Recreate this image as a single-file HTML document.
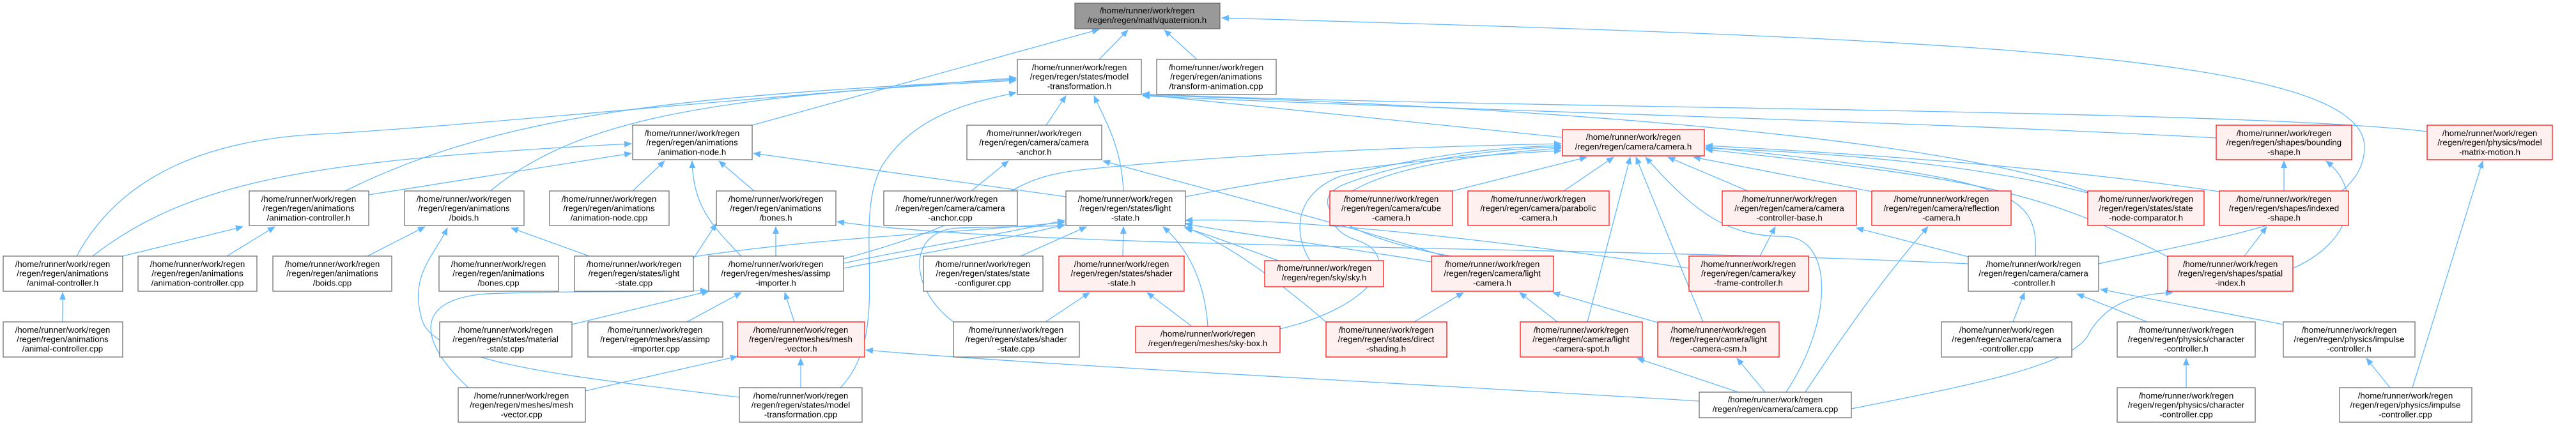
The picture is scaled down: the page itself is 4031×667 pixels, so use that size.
<!DOCTYPE html>
<html><head><meta charset="utf-8"><style>
html,body{margin:0;padding:0;background:#fff;}
svg{display:block}
text{font-family:"Liberation Sans",sans-serif;font-size:13.3px;fill:#000;text-anchor:middle}
.n rect{fill:#fff;stroke:#666;stroke-width:1.2}
.r rect{fill:#fff0f0;stroke:#f00;stroke-width:1.2}
.g rect{fill:#999;stroke:#666;stroke-width:1.2}
path.e{fill:none;stroke:#63b8ff;stroke-width:1.3}
</style></head><body>
<svg width="4031" height="667" viewBox="0 0 4031 667" xmlns="http://www.w3.org/2000/svg">
<defs><marker id="a" markerWidth="12" markerHeight="10" refX="11" refY="5" orient="auto" markerUnits="userSpaceOnUse"><path d="M0,0 L12,5 L0,10 z" fill="#63b8ff"/></marker></defs>
<g marker-end="url(#a)">
<path class="e" d="M1720,93 L1765,47"/>
<path class="e" d="M1873,93 L1822,47"/>
<path class="e" d="M1177,196 L1720,46"/>
<path class="e" d="M3284,413 C3500,365 3700,340 3700,230 C3700,80 3000,60 1912,28"/>
<path class="e" d="M120,401 C180,290 300,220 500,210 S1200,150 1590,122"/>
<path class="e" d="M540,299 C800,170 1100,150 1590,124"/>
<path class="e" d="M767,299 C900,190 1100,150 1590,126"/>
<path class="e" d="M1637,196 L1668,150"/>
<path class="e" d="M1758,299 C1755,230 1730,190 1712,150"/>
<path class="e" d="M1315,607 C1400,520 1330,350 1380,260 C1430,180 1520,160 1590,145"/>
<path class="e" d="M2445,215 C2200,190 1900,160 1788,148"/>
<path class="e" d="M3267,300 C3000,200 2200,160 1788,149"/>
<path class="e" d="M3468,216 C3000,190 2200,170 1788,150"/>
<path class="e" d="M3798,206 C3500,170 2300,170 1788,147"/>
<path class="e" d="M145,401 C300,280 500,250 988,225"/>
<path class="e" d="M577,305 L988,240"/>
<path class="e" d="M990,299 L1040,252"/>
<path class="e" d="M1180,299 L1125,252"/>
<path class="e" d="M1160,401 C1110,350 1085,320 1083,252"/>
<path class="e" d="M1668,308 L1179,240"/>
<path class="e" d="M192,401 L380,355"/>
<path class="e" d="M355,401 L430,355"/>
<path class="e" d="M98,504 L98,458"/>
<path class="e" d="M575,401 L665,355"/>
<path class="e" d="M922,401 L800,357"/>
<path class="e" d="M1157,622 C900,590 680,570 660,500 C640,430 680,400 700,357"/>
<path class="e" d="M1214,401 L1214,355"/>
<path class="e" d="M1085,405 L1121,350"/>
<path class="e" d="M3080,413 C2500,385 1600,390 1310,347"/>
<path class="e" d="M1520,299 L1578,252"/>
<path class="e" d="M2260,401 C2100,350 1900,300 1726,252"/>
<path class="e" d="M1085,402 C1300,370 1500,365 1666,348"/>
<path class="e" d="M1320,412 C1450,385 1550,370 1666,345"/>
<path class="e" d="M1320,420 C1450,395 1550,380 1666,352"/>
<path class="e" d="M1597,401 L1700,355"/>
<path class="e" d="M1757,401 L1758,355"/>
<path class="e" d="M1890,511 C1885,440 1860,390 1820,355"/>
<path class="e" d="M1492,504 C1420,450 1420,360 1500,357 C1560,355 1620,355 1666,353"/>
<path class="e" d="M2075,504 C2000,440 1920,380 1853,355"/>
<path class="e" d="M2240,410 C2050,380 1900,360 1855,350"/>
<path class="e" d="M2000,408 C1950,390 1900,370 1855,357"/>
<path class="e" d="M2643,420 C2300,370 2000,340 1855,345"/>
<path class="e" d="M1855,308 C2050,270 2250,245 2443,236"/>
<path class="e" d="M1320,405 C1600,330 1550,280 1700,265 C2000,235 2300,228 2443,225"/>
<path class="e" d="M2273,299 L2483,246"/>
<path class="e" d="M2447,299 L2525,246"/>
<path class="e" d="M2735,299 L2610,246"/>
<path class="e" d="M2929,300 L2650,246"/>
<path class="e" d="M2050,408 C2020,360 2030,300 2100,275 C2250,240 2350,230 2443,228"/>
<path class="e" d="M2003,515 C2150,480 2200,400 2120,375 C2050,350 2050,260 2443,232"/>
<path class="e" d="M2270,401 C2100,370 2040,320 2100,290 C2200,250 2350,232 2443,230"/>
<path class="e" d="M2484,504 L2551,246"/>
<path class="e" d="M2665,504 L2560,246"/>
<path class="e" d="M2795,614 C2870,500 2870,370 2790,370 C2700,370 2650,330 2575,246"/>
<path class="e" d="M3267,302 C3100,260 2900,240 2669,232"/>
<path class="e" d="M3185,401 C3190,300 3150,280 2669,230"/>
<path class="e" d="M3392,402 C3200,300 3100,280 2669,234"/>
<path class="e" d="M3473,300 C3200,260 2900,240 2669,228"/>
<path class="e" d="M2213,504 L2290,458"/>
<path class="e" d="M2437,504 L2378,458"/>
<path class="e" d="M2594,505 L2430,458"/>
<path class="e" d="M2754,401 L2778,355"/>
<path class="e" d="M3080,402 L2905,357"/>
<path class="e" d="M2825,614 C2900,500 2960,420 3017,355"/>
<path class="e" d="M2720,614 L2562,561"/>
<path class="e" d="M2762,614 L2718,561"/>
<path class="e" d="M1253,607 L1253,561"/>
<path class="e" d="M916,612 L1154,558"/>
<path class="e" d="M2659,628 C2200,600 1600,570 1355,548"/>
<path class="e" d="M1075,504 L1160,458"/>
<path class="e" d="M1243,504 L1228,458"/>
<path class="e" d="M895,508 L1109,456"/>
<path class="e" d="M733,607 C660,540 640,470 760,460 C900,455 1000,458 1107,455"/>
<path class="e" d="M1636,504 L1705,458"/>
<path class="e" d="M1865,511 L1795,458"/>
<path class="e" d="M3574,299 L3574,252"/>
<path class="e" d="M3588,420 C3680,380 3700,300 3640,252"/>
<path class="e" d="M3512,401 L3547,355"/>
<path class="e" d="M2897,640 C3100,600 3250,570 3270,520 C3300,470 3350,460 3400,458"/>
<path class="e" d="M3150,504 L3168,458"/>
<path class="e" d="M3360,504 L3250,460"/>
<path class="e" d="M3573,508 L3287,453"/>
<path class="e" d="M3421,607 L3421,561"/>
<path class="e" d="M3740,607 L3703,561"/>
<path class="e" d="M3775,607 L3885,252"/>
</g>

<!-- nodes -->
<g class="g"><rect x="1682" y="5" width="227" height="40"/><text x="1795" y="21">/home/runner/work/regen</text><text x="1795" y="36">/regen/regen/math/quaternion.h</text></g>

<g class="n"><rect x="1592" y="93" width="194" height="55"/><text x="1689" y="110">/home/runner/work/regen</text><text x="1689" y="124.7">/regen/regen/states/model</text><text x="1689" y="139.4">-transformation.h</text></g>
<g class="n"><rect x="1810" y="93" width="187" height="55"/><text x="1903" y="110">/home/runner/work/regen</text><text x="1903" y="124.7">/regen/regen/animations</text><text x="1903" y="139.4">/transform-animation.cpp</text></g>

<g class="n"><rect x="990" y="196" width="187" height="54"/><text x="1083" y="213">/home/runner/work/regen</text><text x="1083" y="227.7">/regen/regen/animations</text><text x="1083" y="242.4">/animation-node.h</text></g>
<g class="n"><rect x="1513" y="196" width="211" height="54"/><text x="1618" y="213">/home/runner/work/regen</text><text x="1618" y="227.7">/regen/regen/camera/camera</text><text x="1618" y="242.4">-anchor.h</text></g>
<g class="r"><rect x="2445" y="203" width="222" height="41"/><text x="2556" y="219">/home/runner/work/regen</text><text x="2556" y="234">/regen/regen/camera/camera.h</text></g>
<g class="r"><rect x="3468" y="196" width="212" height="54"/><text x="3574" y="213">/home/runner/work/regen</text><text x="3574" y="227.7">/regen/regen/shapes/bounding</text><text x="3574" y="242.4">-shape.h</text></g>
<g class="r"><rect x="3798" y="196" width="196" height="54"/><text x="3896" y="213">/home/runner/work/regen</text><text x="3896" y="227.7">/regen/regen/physics/model</text><text x="3896" y="242.4">-matrix-motion.h</text></g>

<g class="n"><rect x="390" y="299" width="187" height="54"/><text x="483" y="316">/home/runner/work/regen</text><text x="483" y="330.7">/regen/regen/animations</text><text x="483" y="345.4">/animation-controller.h</text></g>
<g class="n"><rect x="633" y="299" width="187" height="54"/><text x="726" y="316">/home/runner/work/regen</text><text x="726" y="330.7">/regen/regen/animations</text><text x="726" y="345.4">/boids.h</text></g>
<g class="n"><rect x="860" y="299" width="187" height="54"/><text x="953" y="316">/home/runner/work/regen</text><text x="953" y="330.7">/regen/regen/animations</text><text x="953" y="345.4">/animation-node.cpp</text></g>
<g class="n"><rect x="1121" y="299" width="187" height="54"/><text x="1214" y="316">/home/runner/work/regen</text><text x="1214" y="330.7">/regen/regen/animations</text><text x="1214" y="345.4">/bones.h</text></g>
<g class="n"><rect x="1383" y="299" width="209" height="54"/><text x="1487" y="316">/home/runner/work/regen</text><text x="1487" y="330.7">/regen/regen/camera/camera</text><text x="1487" y="345.4">-anchor.cpp</text></g>
<g class="n"><rect x="1668" y="299" width="187" height="54"/><text x="1761" y="316">/home/runner/work/regen</text><text x="1761" y="330.7">/regen/regen/states/light</text><text x="1761" y="345.4">-state.h</text></g>
<g class="r"><rect x="2081" y="299" width="192" height="54"/><text x="2177" y="316">/home/runner/work/regen</text><text x="2177" y="330.7">/regen/regen/camera/cube</text><text x="2177" y="345.4">-camera.h</text></g>
<g class="r"><rect x="2297" y="299" width="221" height="54"/><text x="2407" y="316">/home/runner/work/regen</text><text x="2407" y="330.7">/regen/regen/camera/parabolic</text><text x="2407" y="345.4">-camera.h</text></g>
<g class="r"><rect x="2695" y="299" width="210" height="54"/><text x="2800" y="316">/home/runner/work/regen</text><text x="2800" y="330.7">/regen/regen/camera/camera</text><text x="2800" y="345.4">-controller-base.h</text></g>
<g class="r"><rect x="2929" y="299" width="218" height="54"/><text x="3038" y="316">/home/runner/work/regen</text><text x="3038" y="330.7">/regen/regen/camera/reflection</text><text x="3038" y="345.4">-camera.h</text></g>
<g class="r"><rect x="3267" y="299" width="182" height="54"/><text x="3358" y="316">/home/runner/work/regen</text><text x="3358" y="330.7">/regen/regen/states/state</text><text x="3358" y="345.4">-node-comparator.h</text></g>
<g class="r"><rect x="3473" y="299" width="202" height="54"/><text x="3574" y="316">/home/runner/work/regen</text><text x="3574" y="330.7">/regen/regen/shapes/indexed</text><text x="3574" y="345.4">-shape.h</text></g>

<g class="n"><rect x="5" y="401" width="187" height="55"/><text x="98" y="418">/home/runner/work/regen</text><text x="98" y="432.7">/regen/regen/animations</text><text x="98" y="447.4">/animal-controller.h</text></g>
<g class="n"><rect x="216" y="401" width="186" height="55"/><text x="309" y="418">/home/runner/work/regen</text><text x="309" y="432.7">/regen/regen/animations</text><text x="309" y="447.4">/animation-controller.cpp</text></g>
<g class="n"><rect x="427" y="401" width="186" height="55"/><text x="520" y="418">/home/runner/work/regen</text><text x="520" y="432.7">/regen/regen/animations</text><text x="520" y="447.4">/boids.cpp</text></g>
<g class="n"><rect x="687" y="401" width="187" height="55"/><text x="780" y="418">/home/runner/work/regen</text><text x="780" y="432.7">/regen/regen/animations</text><text x="780" y="447.4">/bones.cpp</text></g>
<g class="n"><rect x="899" y="401" width="186" height="55"/><text x="992" y="418">/home/runner/work/regen</text><text x="992" y="432.7">/regen/regen/states/light</text><text x="992" y="447.4">-state.cpp</text></g>
<g class="n"><rect x="1109" y="401" width="211" height="55"/><text x="1214" y="418">/home/runner/work/regen</text><text x="1214" y="432.7">/regen/regen/meshes/assimp</text><text x="1214" y="447.4">-importer.h</text></g>
<g class="n"><rect x="1445" y="401" width="187" height="55"/><text x="1538" y="418">/home/runner/work/regen</text><text x="1538" y="432.7">/regen/regen/states/state</text><text x="1538" y="447.4">-configurer.cpp</text></g>
<g class="r"><rect x="1657" y="401" width="196" height="55"/><text x="1755" y="418">/home/runner/work/regen</text><text x="1755" y="432.7">/regen/regen/states/shader</text><text x="1755" y="447.4">-state.h</text></g>
<g class="r"><rect x="1979" y="408" width="186" height="41"/><text x="2072" y="424">/home/runner/work/regen</text><text x="2072" y="439">/regen/regen/sky/sky.h</text></g>
<g class="r"><rect x="2240" y="401" width="191" height="55"/><text x="2335" y="418">/home/runner/work/regen</text><text x="2335" y="432.7">/regen/regen/camera/light</text><text x="2335" y="447.4">-camera.h</text></g>
<g class="r"><rect x="2643" y="401" width="187" height="55"/><text x="2736" y="418">/home/runner/work/regen</text><text x="2736" y="432.7">/regen/regen/camera/key</text><text x="2736" y="447.4">-frame-controller.h</text></g>
<g class="n"><rect x="3080" y="401" width="204" height="55"/><text x="3182" y="418">/home/runner/work/regen</text><text x="3182" y="432.7">/regen/regen/camera/camera</text><text x="3182" y="447.4">-controller.h</text></g>
<g class="r"><rect x="3392" y="401" width="196" height="55"/><text x="3490" y="418">/home/runner/work/regen</text><text x="3490" y="432.7">/regen/regen/shapes/spatial</text><text x="3490" y="447.4">-index.h</text></g>

<g class="n"><rect x="5" y="504" width="187" height="55"/><text x="98" y="521">/home/runner/work/regen</text><text x="98" y="535.7">/regen/regen/animations</text><text x="98" y="550.4">/animal-controller.cpp</text></g>
<g class="n"><rect x="688" y="504" width="207" height="55"/><text x="791" y="521">/home/runner/work/regen</text><text x="791" y="535.7">/regen/regen/states/material</text><text x="791" y="550.4">-state.cpp</text></g>
<g class="n"><rect x="920" y="504" width="211" height="55"/><text x="1025" y="521">/home/runner/work/regen</text><text x="1025" y="535.7">/regen/regen/meshes/assimp</text><text x="1025" y="550.4">-importer.cpp</text></g>
<g class="r"><rect x="1154" y="504" width="199" height="55"/><text x="1253" y="521">/home/runner/work/regen</text><text x="1253" y="535.7">/regen/regen/meshes/mesh</text><text x="1253" y="550.4">-vector.h</text></g>
<g class="n"><rect x="1492" y="504" width="197" height="55"/><text x="1590" y="521">/home/runner/work/regen</text><text x="1590" y="535.7">/regen/regen/states/shader</text><text x="1590" y="550.4">-state.cpp</text></g>
<g class="r"><rect x="1777" y="511" width="226" height="41"/><text x="1890" y="527">/home/runner/work/regen</text><text x="1890" y="542">/regen/regen/meshes/sky-box.h</text></g>
<g class="r"><rect x="2075" y="504" width="189" height="55"/><text x="2169" y="521">/home/runner/work/regen</text><text x="2169" y="535.7">/regen/regen/states/direct</text><text x="2169" y="550.4">-shading.h</text></g>
<g class="r"><rect x="2379" y="504" width="191" height="55"/><text x="2474" y="521">/home/runner/work/regen</text><text x="2474" y="535.7">/regen/regen/camera/light</text><text x="2474" y="550.4">-camera-spot.h</text></g>
<g class="r"><rect x="2594" y="504" width="190" height="55"/><text x="2689" y="521">/home/runner/work/regen</text><text x="2689" y="535.7">/regen/regen/camera/light</text><text x="2689" y="550.4">-camera-csm.h</text></g>
<g class="n"><rect x="3038" y="504" width="204" height="55"/><text x="3140" y="521">/home/runner/work/regen</text><text x="3140" y="535.7">/regen/regen/camera/camera</text><text x="3140" y="550.4">-controller.cpp</text></g>
<g class="n"><rect x="3313" y="504" width="216" height="55"/><text x="3421" y="521">/home/runner/work/regen</text><text x="3421" y="535.7">/regen/regen/physics/character</text><text x="3421" y="550.4">-controller.h</text></g>
<g class="n"><rect x="3573" y="504" width="206" height="55"/><text x="3676" y="521">/home/runner/work/regen</text><text x="3676" y="535.7">/regen/regen/physics/impulse</text><text x="3676" y="550.4">-controller.h</text></g>

<g class="n"><rect x="717" y="607" width="199" height="54"/><text x="816" y="624">/home/runner/work/regen</text><text x="816" y="638.7">/regen/regen/meshes/mesh</text><text x="816" y="653.4">-vector.cpp</text></g>
<g class="n"><rect x="1157" y="607" width="192" height="54"/><text x="1253" y="624">/home/runner/work/regen</text><text x="1253" y="638.7">/regen/regen/states/model</text><text x="1253" y="653.4">-transformation.cpp</text></g>
<g class="n"><rect x="2659" y="614" width="238" height="40"/><text x="2778" y="630">/home/runner/work/regen</text><text x="2778" y="645">/regen/regen/camera/camera.cpp</text></g>
<g class="n"><rect x="3313" y="607" width="216" height="54"/><text x="3421" y="624">/home/runner/work/regen</text><text x="3421" y="638.7">/regen/regen/physics/character</text><text x="3421" y="653.4">-controller.cpp</text></g>
<g class="n"><rect x="3661" y="607" width="207" height="54"/><text x="3764" y="624">/home/runner/work/regen</text><text x="3764" y="638.7">/regen/regen/physics/impulse</text><text x="3764" y="653.4">-controller.cpp</text></g>
</svg>
</body></html>
